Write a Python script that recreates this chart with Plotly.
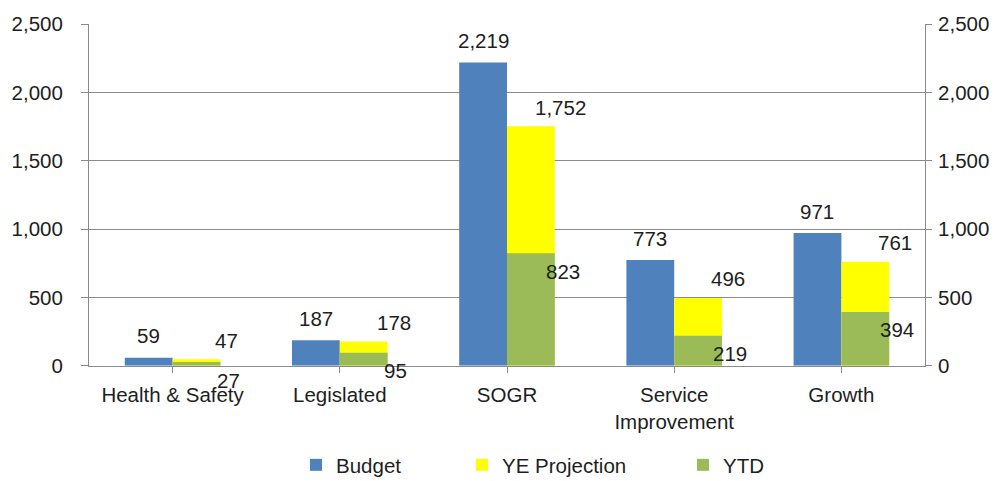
import plotly.graph_objects as go

# Capital spending by program category ($ thousands)
categories = ["Health & Safety", "Legislated", "SOGR", "Service Improvement", "Growth"]
tick_labels = ["Health & Safety", "Legislated", "SOGR", "Service<br>Improvement", "Growth"]
budget = [59, 187, 2219, 773, 971]
ye_projection = [47, 178, 1752, 496, 761]
ytd = [27, 95, 823, 219, 394]

BLUE = "#4F81BD"
YELLOW = "#FFFF00"
GREEN = "#9BBB59"
GRID = "#8A8A8A"
TEXT = "#1E1E1E"
FONT = "Liberation Sans, Arial, sans-serif"
FS = 20.5

BAR_W = 0.286
x_idx = list(range(len(categories)))

fig = go.Figure()
fig.add_trace(go.Bar(x=x_idx, y=budget, name="Budget", marker=dict(color=BLUE, line_width=0),
                     width=BAR_W, offset=-BAR_W, legend="legend"))
fig.add_trace(go.Bar(x=x_idx, y=ye_projection, name="YE Projection", marker=dict(color=YELLOW, line_width=0),
                     width=BAR_W, offset=0, legend="legend2"))
# YTD sits on the mirrored right-hand axis so it draws over the projection bars
fig.add_trace(go.Bar(x=x_idx, y=ytd, name="YTD", marker=dict(color=GREEN, line_width=0),
                     width=BAR_W, offset=0, legend="legend3", yaxis="y2"))

# value labels
ann = []
for i, v in enumerate(budget):
    ann.append(dict(x=i - BAR_W / 2, y=v, text=f"{v:,}", showarrow=False,
                    xanchor="center", yanchor="middle", yshift=22))
for i, v in enumerate(ye_projection):
    ann.append(dict(x=i + BAR_W, y=v, text=f"{v:,}", showarrow=False,
                    xanchor="center", yanchor="middle", xshift=6, yshift=19))
for i, v in enumerate(ytd):
    ann.append(dict(x=i + BAR_W, y=v, text=f"{v:,}", showarrow=False,
                    xanchor="center", yanchor="middle", xshift=8, yshift=-18))
for a in ann:
    a["font"] = dict(family=FONT, size=FS, color=TEXT)

legend_common = dict(orientation="h", xref="container", yref="container",
                     yanchor="middle", y=1 - 465 / 481, xanchor="left",
                     bgcolor="rgba(0,0,0,0)", font=dict(family=FONT, size=FS, color=TEXT),
                     itemclick=False, itemdoubleclick=False, visible=True)

fig.update_layout(
    width=1004, height=481,
    margin=dict(l=87, r=79, t=20, b=115),
    paper_bgcolor="white", plot_bgcolor="white",
    barmode="overlay",
    showlegend=True,
    font=dict(family=FONT, size=FS, color=TEXT),
    annotations=ann,
    legend=dict(**legend_common, x=296 / 1004),
    legend2=dict(**legend_common, x=462 / 1004),
    legend3=dict(**legend_common, x=683 / 1004),
    xaxis=dict(
        tickmode="array", tickvals=x_idx, ticktext=tick_labels,
        range=[-0.5, len(categories) - 0.5],
        showline=True, linecolor=GRID, linewidth=1,
        ticks="outside", tickson="boundaries", ticklen=6, tickcolor=GRID,
        showgrid=False, zeroline=False,
        ticklabelstandoff=5,
        tickfont=dict(family=FONT, size=FS, color=TEXT),
    ),
    yaxis=dict(
        range=[0, 2500], dtick=500, tickformat=",",
        showline=True, linecolor=GRID, linewidth=1,
        ticks="outside", ticklen=7, tickcolor=GRID,
        showgrid=True, gridcolor=GRID, gridwidth=1, zeroline=False,
        ticklabelstandoff=14,
        tickfont=dict(family=FONT, size=FS, color=TEXT),
    ),
    yaxis2=dict(
        overlaying="y", side="right", anchor="x",
        range=[0, 2500], dtick=500, tickformat=",",
        showline=True, linecolor=GRID, linewidth=1,
        ticks="outside", ticklen=6, tickcolor=GRID,
        showgrid=False, zeroline=False,
        ticklabelstandoff=2,
        tickfont=dict(family=FONT, size=FS, color=TEXT),
    ),
)

fig.write_html("out.html")
